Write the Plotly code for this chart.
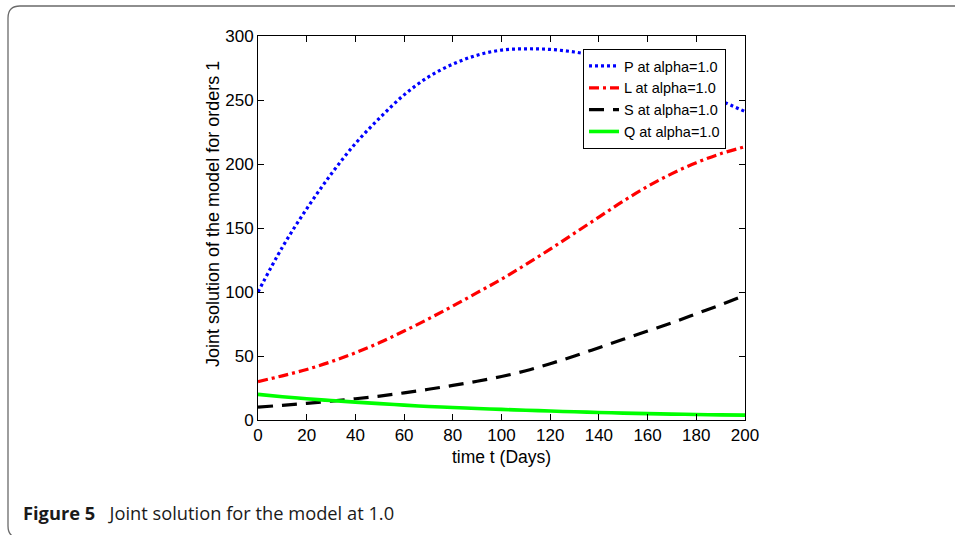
import plotly.graph_objects as go

# Time grid (days) and the four model compartments at alpha = 1.0
t = [0, 10, 20, 30, 40, 50, 60, 70, 80, 90, 100,
     110, 120, 130, 140, 150, 160, 170, 180, 190, 200]

P = [100, 135, 165, 192, 216, 236, 254, 268, 278, 285, 289,
     290, 289.5, 287.5, 284, 279, 273, 266, 258, 249.5, 241]
L = [30, 34.5, 39.5, 45.5, 52.5, 60.5, 69.5, 79, 89, 99.5, 110,
     121.5, 133.5, 146, 158.5, 171, 182.5, 192.5, 201, 208, 213.5]
S = [10, 11.5, 13, 14.8, 16.6, 18.7, 21.2, 24, 27, 30.3, 34,
     38.5, 44, 50, 56.5, 63, 69.5, 76, 83, 90, 97.5]
Q = [20, 18.2, 16.6, 15.2, 14, 12.8, 11.6, 10.6, 9.8, 9, 8.3,
     7.6, 7, 6.4, 5.9, 5.4, 5, 4.6, 4.3, 4, 3.8]

names = ["P at alpha=1.0", "L at alpha=1.0", "S at alpha=1.0", "Q at alpha=1.0"]
x_ticks = [0, 20, 40, 60, 80, 100, 120, 140, 160, 180, 200]
y_ticks = [0, 50, 100, 150, 200, 250, 300]

W, H = 955, 535
ML, MR, MT, MB = 258, 210, 36, 115
PW, PH = W - ML - MR, H - MT - MB
FONT = "Liberation Sans, Arial, sans-serif"


def px(x):
    return (x - ML) / PW


def py(y):
    return (H - MB - y) / PH


fig = go.Figure()
styles = [
    dict(color="#0000ff", width=3.2, dash="3px,3px"),
    dict(color="#ff0000", width=3.2, dash="10px,4px,3px,4px"),
    dict(color="#000000", width=3.2, dash="15px,9px"),
    dict(color="#00ff00", width=3.6, dash="solid"),
]
for series, name, st in zip([P, L, S, Q], names, styles):
    fig.add_trace(go.Scatter(x=t, y=series, name=name, mode="lines",
                             line=dict(shape="spline", **st)))

axis_common = dict(
    showgrid=False, zeroline=False, showline=True, linecolor="#000000",
    linewidth=1, mirror="ticks", ticks="inside", ticklen=6, tickwidth=1,
    tickcolor="#000000",
    tickfont=dict(family=FONT, size=17, color="#000000"),
)

fig.update_xaxes(range=[0, 200], tickvals=x_ticks,
                 title=dict(text="time t (Days)", standoff=6,
                            font=dict(family=FONT, size=17.5, color="#000000")),
                 **axis_common)
fig.update_yaxes(range=[0, 300], tickvals=y_ticks, **axis_common)

# Y-axis label, placed slightly above the middle of the axis
fig.add_annotation(xref="paper", yref="paper", x=px(213), y=py(214),
                   xanchor="center", yanchor="middle", showarrow=False, textangle=-90,
                   text="Joint solution of the model for orders 1",
                   font=dict(family=FONT, size=18, color="#000000"))

# Rounded frame around the figure and its caption
frame = (f"M {px(20)},{py(538)} Q {px(8)},{py(538)} {px(8)},{py(526)} "
         f"L {px(8)},{py(18)} Q {px(8)},{py(6)} {px(20)},{py(6)} L {px(970)},{py(6)}")
fig.add_shape(type="path", path=frame, xref="paper", yref="paper",
              line=dict(color="#6a6a6a", width=1.3), layer="below")

fig.add_annotation(xref="paper", yref="paper", x=px(21), y=py(512),
                   xanchor="left", yanchor="middle", showarrow=False,
                   text="<b>Figure 5</b>&nbsp;&nbsp;&nbsp;Joint solution for the model at 1.0",
                   font=dict(family="Open Sans, sans-serif", size=18.3, color="#1a1a1a"))

fig.update_layout(
    width=W, height=H,
    margin=dict(l=ML, r=MR, t=MT, b=MB),
    paper_bgcolor="#ffffff", plot_bgcolor="#ffffff",
    showlegend=True,
    legend=dict(x=px(583), y=py(49), xanchor="left", yanchor="top",
                bgcolor="#ffffff", bordercolor="#000000", borderwidth=1,
                font=dict(family=FONT, size=14.5, color="#000000"),
                itemwidth=30, tracegroupgap=0),
)

fig.write_html("out.html")
